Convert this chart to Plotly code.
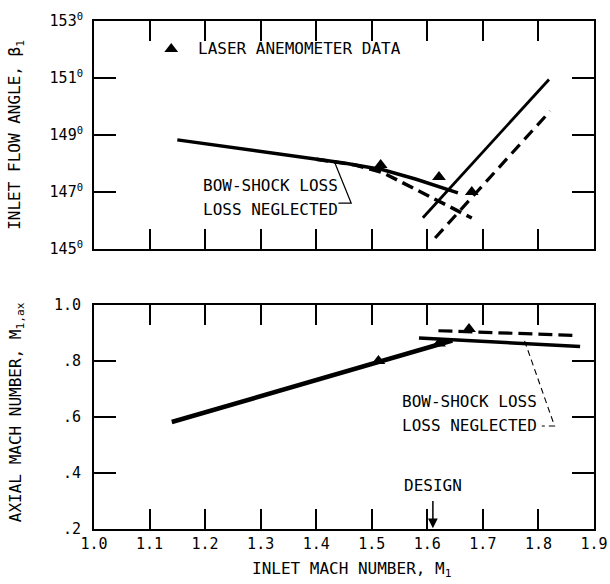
import plotly.graph_objects as go

# ---- Upper panel: inlet flow angle (deg) vs inlet Mach number ----
beta_bow_m = [1.15, 1.25, 1.35, 1.45, 1.52, 1.58, 1.655]
beta_bow = [148.83, 148.57, 148.30, 148.02, 147.78, 147.45, 146.97]
beta_negl_m = [1.40, 1.47, 1.52, 1.60, 1.68]
beta_negl = [148.15, 147.95, 147.68, 146.90, 146.09]
beta_start_bow_m = [1.592, 1.819]
beta_start_bow = [146.10, 150.95]
beta_start_negl_m = [1.614, 1.821]
beta_start_negl = [145.39, 149.84]
beta_data_m = [1.516, 1.621, 1.680]
beta_data = [147.95, 147.53, 147.00]

# ---- Lower panel: axial Mach number vs inlet Mach number ----
max_bow_m = [1.14, 1.25, 1.37, 1.51, 1.62, 1.645]
max_bow = [0.582, 0.646, 0.715, 0.795, 0.858, 0.873]
max_bow_hi_m = [1.585, 1.70, 1.80, 1.875]
max_bow_hi = [0.882, 0.870, 0.860, 0.852]
max_negl_m = [1.62, 1.75, 1.87]
max_negl = [0.908, 0.899, 0.891]
max_data_m = [1.512, 1.621, 1.675]
max_data = [0.800, 0.862, 0.914]

mach_ticks = [1.0, 1.1, 1.2, 1.3, 1.4, 1.5, 1.6, 1.7, 1.8, 1.9]
mach_labels = ["1.0", "1.1", "1.2", "1.3", "1.4", "1.5", "1.6", "1.7", "1.8", "1.9"]
beta_ticks = [145, 147, 149, 151, 153]
beta_labels = [f"{v}<sup>0</sup>" for v in beta_ticks]
max_ticks = [0.2, 0.4, 0.6, 0.8, 1.0]
max_labels = [".2", ".4", ".6", ".8", "1.0"]
design_mach = 1.61

FONT = "DejaVu Sans Mono"
BLACK = "black"

fig = go.Figure()

def line(x, y, xa, ya, width, dash="solid"):
    fig.add_trace(go.Scatter(x=x, y=y, xaxis=xa, yaxis=ya, mode="lines",
                             line=dict(color=BLACK, width=width, dash=dash),
                             showlegend=False, hoverinfo="skip"))

def tri(x, y, xa, ya):
    fig.add_trace(go.Scatter(x=x, y=y, xaxis=xa, yaxis=ya, mode="markers",
                             marker=dict(symbol="triangle-up", size=12, color=BLACK),
                             showlegend=False, hoverinfo="skip"))

# upper panel curves
line(beta_negl_m, beta_negl, "x", "y", 3.5, "12px,6px")
line(beta_bow_m, beta_bow, "x", "y", 3.5)
line(beta_start_bow_m, beta_start_bow, "x", "y", 2.8)
line(beta_start_negl_m, beta_start_negl, "x", "y", 3.2, "12px,7px")
tri(beta_data_m, beta_data, "x", "y")
tri([1.139], [152.02], "x", "y")

# lower panel curves
line(max_bow_m, max_bow, "x2", "y2", 4.5)
line(max_bow_hi_m, max_bow_hi, "x2", "y2", 3.5)
line(max_negl_m, max_negl, "x2", "y2", 3.2, "14px,6px")
tri(max_data_m, max_data, "x2", "y2")

# leader lines
fig.add_trace(go.Scatter(x=[1.432, 1.463, 1.440], y=[148.10, 146.61, 146.61],
                         xaxis="x", yaxis="y", mode="lines",
                         line=dict(color=BLACK, width=1.2),
                         showlegend=False, hoverinfo="skip"))
fig.add_trace(go.Scatter(x=[1.775, 1.829, 1.806], y=[0.872, 0.568, 0.568],
                         xaxis="x2", yaxis="y2", mode="lines",
                         line=dict(color=BLACK, width=1.1, dash="6px,4px"),
                         showlegend=False, hoverinfo="skip"))

axis_common = dict(range=[1.0, 1.9], tickvals=mach_ticks, ticks="inside", ticklen=20,
                   tickwidth=2, tickcolor=BLACK, showline=True, linewidth=2,
                   linecolor=BLACK, mirror="ticks", showgrid=False, zeroline=False,
                   automargin=False)

fig.update_layout(
    width=610, height=584,
    margin=dict(l=94, r=16, t=21, b=55, autoexpand=False),
    paper_bgcolor="white", plot_bgcolor="white",
    font=dict(family=FONT, size=16, color=BLACK),
    xaxis=dict(domain=[0, 1], anchor="y", showticklabels=False, **axis_common),
    xaxis2=dict(domain=[0, 1], anchor="y2", ticktext=mach_labels,
                tickfont=dict(size=15), ticklabeloverflow="allow", **axis_common),
    yaxis=dict(domain=[0.551, 1.0], anchor="x", range=[145, 153],
               tickvals=beta_ticks, ticktext=beta_labels, ticks="inside", ticklen=22,
               tickwidth=2, tickcolor=BLACK, showline=True, linewidth=2, linecolor=BLACK,
               mirror="ticks", showgrid=False, zeroline=False, tickfont=dict(size=15),
               ticklabelstandoff=6, ticklabeloverflow="allow", automargin=False),
    yaxis2=dict(domain=[0, 0.441], anchor="x2", range=[0.2, 1.0],
                tickvals=max_ticks, ticktext=max_labels, ticks="inside", ticklen=22,
                tickwidth=2, tickcolor=BLACK, showline=True, linewidth=2, linecolor=BLACK,
                mirror="ticks", showgrid=False, zeroline=False, tickfont=dict(size=15),
                ticklabelstandoff=8, ticklabeloverflow="allow", automargin=False),
)

ann = []
# legend text
ann.append(dict(x=1.184, y=152.02, xref="x", yref="y", text="LASER ANEMOMETER DATA",
                showarrow=False, xanchor="left", yanchor="middle"))
# upper labels
ann.append(dict(x=1.317, y=147.22, xref="x", yref="y", text="BOW-SHOCK LOSS",
                showarrow=False, xanchor="center", yanchor="middle"))
ann.append(dict(x=1.317, y=146.38, xref="x", yref="y", text="LOSS NEGLECTED",
                showarrow=False, xanchor="center", yanchor="middle"))
# lower labels
ann.append(dict(x=1.675, y=0.654, xref="x2", yref="y2", text="BOW-SHOCK LOSS",
                showarrow=False, xanchor="center", yanchor="middle"))
ann.append(dict(x=1.675, y=0.571, xref="x2", yref="y2", text="LOSS NEGLECTED",
                showarrow=False, xanchor="center", yanchor="middle"))
# design point
ann.append(dict(x=design_mach, y=0.357, xref="x2", yref="y2", text="DESIGN",
                showarrow=False, xanchor="center", yanchor="middle"))
ann.append(dict(x=design_mach, y=0.203, xref="x2", yref="y2", ax=design_mach, ay=0.305,
                axref="x2", ayref="y2", text="", showarrow=True, arrowhead=2,
                arrowsize=1.3, arrowwidth=1.5, arrowcolor=BLACK))
# axis titles
ann.append(dict(x=0.514, y=-0.08, xref="paper", yref="paper",
                text="INLET MACH NUMBER, M<sub>1</sub>", showarrow=False,
                xanchor="center", yanchor="middle"))
ann.append(dict(x=-0.156, y=0.776, xref="paper", yref="paper",
                text="INLET FLOW ANGLE, β<sub>1</sub>", showarrow=False, textangle=-90,
                xanchor="center", yanchor="middle"))
ann.append(dict(x=-0.156, y=0.230, xref="paper", yref="paper",
                text="AXIAL MACH NUMBER, M<sub>1,ax</sub>", showarrow=False, textangle=-90,
                xanchor="center", yanchor="middle"))
fig.update_layout(annotations=ann)

fig.write_html("out.html")
